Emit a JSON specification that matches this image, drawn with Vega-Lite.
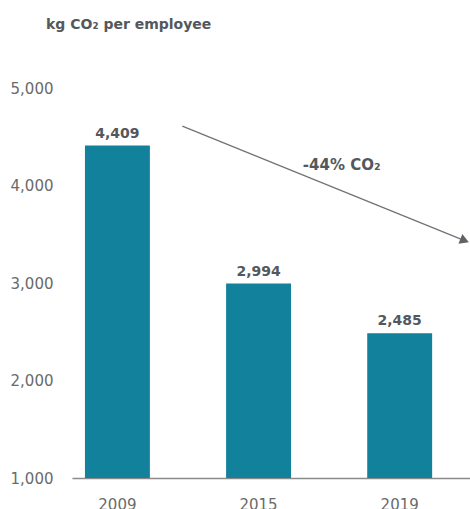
{
  "$schema": "https://vega.github.io/schema/vega-lite/v6.json",
  "width": 398,
  "height": 390,
  "autosize": {"type": "none"},
  "padding": {"left": 72, "top": 88, "right": 0, "bottom": 31},
  "background": "white",
  "config": {"view": {"stroke": null}, "font": "DejaVu Sans"},
  "title": {
    "text": "kg CO₂ per employee",
    "anchor": "start",
    "frame": "group",
    "font": "DejaVu Sans",
    "fontSize": 14,
    "fontWeight": "bold",
    "color": "#54585c",
    "baseline": "alphabetic",
    "dx": -26,
    "offset": 38
  },
  "datasets": {
    "bars": [
      {"year": "2009", "kg": 4409},
      {"year": "2015", "kg": 2994},
      {"year": "2019", "kg": 2485}
    ],
    "arrow": [
      {"year": "2009", "kg": 4610},
      {"year": "2019", "kg": 3435}
    ],
    "head": [
      {"year": "2019", "kg": 3435}
    ],
    "note": [
      {"year": "2015", "kg": 4159, "label": "-44% CO₂"}
    ]
  },
  "layer": [
    {
      "data": {"name": "bars"},
      "mark": {"type": "bar", "color": "#12819b"},
      "encoding": {
        "x": {
          "field": "year",
          "type": "nominal",
          "scale": {"paddingInner": 0.54, "paddingOuter": 0.18, "align": 0.255},
          "axis": {
            "title": null,
            "labelAngle": 0,
            "ticks": false,
            "grid": false,
            "domainColor": "#8a8a8a",
            "domainWidth": 1.5,
            "labelFont": "DejaVu Sans",
            "labelFontSize": 15,
            "labelColor": "#6a6a6a",
            "labelPadding": 19
          }
        },
        "y": {
          "field": "kg",
          "type": "quantitative",
          "scale": {"domain": [1000, 5000], "zero": false, "nice": false},
          "axis": {
            "title": null,
            "values": [1000, 2000, 3000, 4000, 5000],
            "format": ",.0f",
            "domain": false,
            "ticks": false,
            "grid": false,
            "labelFont": "DejaVu Sans",
            "labelFontSize": 15,
            "labelColor": "#6a6a6a",
            "labelPadding": 19
          }
        },
        "y2": {"datum": 1000}
      }
    },
    {
      "data": {"name": "bars"},
      "mark": {"type": "text", "dy": -8, "baseline": "alphabetic", "align": "center", "font": "DejaVu Sans", "fontWeight": "bold", "fontSize": 14, "color": "#54585c"},
      "encoding": {
        "x": {"field": "year", "type": "nominal"},
        "y": {"field": "kg", "type": "quantitative"},
        "text": {"field": "kg", "type": "quantitative", "format": ",.0f"}
      }
    },
    {
      "data": {"name": "arrow"},
      "mark": {"type": "line", "color": "#707377", "strokeWidth": 1.3},
      "encoding": {
        "x": {"field": "year", "type": "nominal", "bandPosition": 1.5},
        "y": {"field": "kg", "type": "quantitative"}
      }
    },
    {
      "data": {"name": "head"},
      "mark": {"type": "point", "shape": "triangle-right", "filled": true, "size": 110, "angle": 22, "color": "#5f6368", "opacity": 1},
      "encoding": {
        "x": {"field": "year", "type": "nominal", "bandPosition": 1.5},
        "y": {"field": "kg", "type": "quantitative"}
      }
    },
    {
      "data": {"name": "note"},
      "mark": {"type": "text", "baseline": "alphabetic", "align": "center", "font": "DejaVu Sans", "fontWeight": "bold", "fontSize": 15, "color": "#54585c"},
      "encoding": {
        "x": {"field": "year", "type": "nominal", "bandPosition": 1.78},
        "y": {"field": "kg", "type": "quantitative"},
        "text": {"field": "label"}
      }
    }
  ]
}
